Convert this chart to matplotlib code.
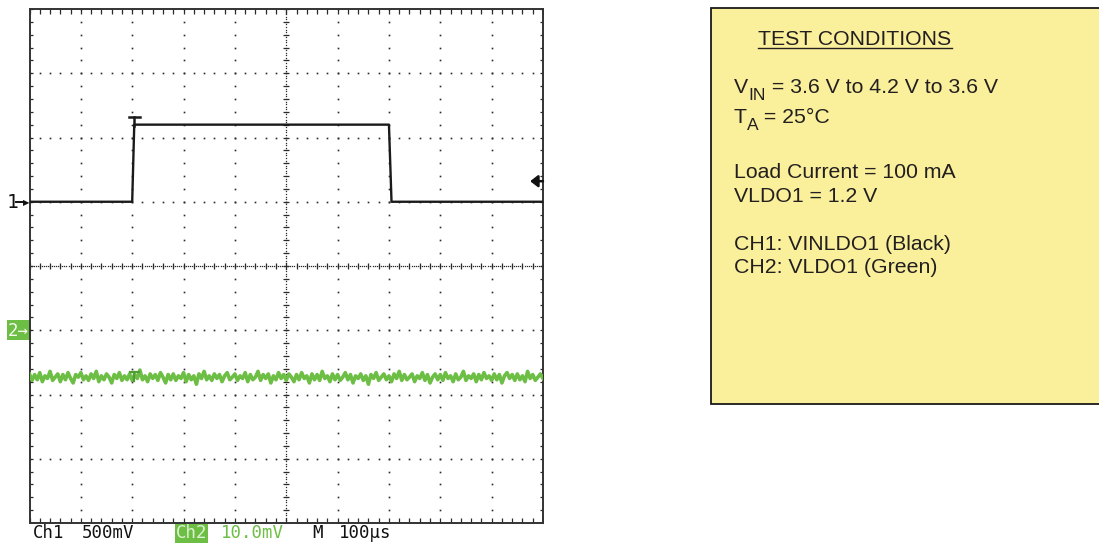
import numpy as np
import matplotlib
matplotlib.use("Agg")
import matplotlib.pyplot as plt
from matplotlib.patches import Rectangle
from matplotlib.lines import Line2D

# ---------------- data ----------------
# Channel 1 (VINLDO1) : time in microseconds, voltage in volts
ch1_time_us = [0, 200, 204, 700, 705, 1000]
ch1_volts = [3.6, 3.6, 4.2, 4.2, 3.6, 3.6]
ch1_ref_volts = 3.6          # level at channel-1 marker
ch1_scale_v = 0.5            # 500 mV/div
ch1_offset_div = 1.0         # marker "1" position (div above centre)
trigger_time_us = 204
trigger_level_v = 3.76

# Channel 2 (VLDO1) : mV relative to channel-2 marker, sampled every 5 us
ch2_mv = [
    -6.8, -7.8, -6.9, -7.7, -6.6, -8.0, -7.1, -7.5, -6.4, -7.8, -7.3, -6.8, -8.0, -6.9, -7.7, -6.6, -7.5, -8.2, -6.9, -7.3,
    -6.6, -7.7, -7.1, -7.8, -6.8, -7.5, -6.4, -8.0, -7.1, -7.7, -6.8, -7.3, -8.2, -6.9, -7.5, -6.6, -7.8, -7.1, -7.7, -6.8,
    -7.8, -6.9, -7.5, -6.2, -7.7, -7.1, -8.0, -6.8, -7.5, -6.9, -7.8, -6.6, -7.3, -8.2, -6.9, -7.7, -6.8, -7.8, -7.1, -7.5,
    -6.6, -8.0, -6.9, -7.7, -7.1, -8.4, -6.8, -7.5, -6.4, -7.7, -7.1, -7.8, -6.8, -7.5, -6.9, -8.0, -7.1, -6.6, -7.7, -7.3,
    -6.8, -7.8, -7.1, -7.5, -6.6, -8.0, -6.9, -7.7, -7.3, -6.4, -7.8, -6.9, -7.5, -6.8, -8.2, -7.1, -7.7, -6.6, -7.5, -6.9,
    -7.8, -6.8, -7.3, -8.0, -6.9, -7.7, -6.6, -7.5, -7.1, -8.2, -6.8, -7.7, -6.9, -7.8, -6.4, -7.5, -7.1, -8.0, -6.8, -7.7,
    -6.9, -7.8, -7.3, -6.6, -7.7, -6.9, -8.2, -7.1, -7.5, -6.8, -7.8, -7.1, -8.4, -6.9, -7.5, -6.6, -7.8, -7.3, -6.8, -7.7,
    -7.1, -8.0, -6.8, -7.5, -6.4, -7.8, -6.9, -7.7, -7.3, -6.8, -8.0, -7.1, -7.5, -6.6, -7.8, -6.9, -8.2, -7.3, -6.8, -7.7,
    -6.9, -7.8, -6.6, -7.5, -7.1, -8.0, -6.8, -7.7, -7.3, -6.4, -7.8, -7.1, -7.5, -6.8, -8.0, -6.9, -7.7, -6.6, -7.5, -7.1,
    -7.8, -6.8, -7.7, -6.9, -8.2, -7.1, -6.6, -7.5, -6.9, -7.8, -6.8, -7.7, -7.1, -8.0, -6.4, -7.5, -6.9, -7.8, -7.3, -6.8,
    -7.5,
]
ch2_step_us = 5
ch2_scale_mv = 10.0          # 10.0 mV/div
ch2_offset_div = -1.0        # marker "2" position

time_per_div_us = 100

# scope status labels
status_labels = ["Ch1", "500mV", "Ch2", "10.0mV", "M", "100\u00b5s"]

# test-condition text
tc_title = "TEST CONDITIONS"
tc_vin = ("V", "IN", " = 3.6 V to 4.2 V to 3.6 V")
tc_ta = ("T", "A", " = 25°C")
tc_lines = [
    "Load Current = 100 mA",
    "VLDO1 = 1.2 V",
    "CH1: VINLDO1 (Black)",
    "CH2: VLDO1 (Green)",
]

# ---------------- figure ----------------
W, H = 1099, 544
fig = plt.figure(figsize=(W / 100, H / 100), dpi=100)
fig.patch.set_facecolor("white")


def px(x, y):
    return x / W, 1 - y / H


GREEN = "#6DBE45"
DOT = "#2a2a2a"

L, T, R, B = 29.5, 9, 543, 523
ax = fig.add_axes([L / W, 1 - B / H, (R - L) / W, (B - T) / H])
ax.set_xlim(0, 10)
ax.set_ylim(-4, 4)
ax.set_xticks([])
ax.set_yticks([])
for s in ax.spines.values():
    s.set_color("#333333")
    s.set_linewidth(1.4)
ax.set_facecolor("white")

# graticule
ys_minor = np.linspace(-4, 4, 41)
xs_minor = np.linspace(0, 10, 51)
for k in range(1, 10):
    if k == 5:
        continue
    ax.plot(np.full_like(ys_minor, k), ys_minor, ls="none", marker="s", ms=1.2,
            mec="none", mfc=DOT, zorder=1)
for m in range(-3, 4):
    if m == 0:
        continue
    ax.plot(xs_minor, np.full_like(xs_minor, m), ls="none", marker="s", ms=1.2,
            mec="none", mfc=DOT, zorder=1)

# centre crosshair (dense dots + subdivision ticks)
dense_y = np.linspace(-4, 4, 201)
dense_x = np.linspace(0, 10, 251)
ax.plot(np.full_like(dense_y, 5), dense_y, ls="none", marker="s", ms=0.9,
        mec="none", mfc=DOT, zorder=1)
ax.plot(dense_x, np.zeros_like(dense_x), ls="none", marker="s", ms=0.9,
        mec="none", mfc=DOT, zorder=1)
ax.plot(np.full_like(ys_minor, 5), ys_minor, ls="none", marker="_", ms=5,
        mew=0.9, color=DOT, zorder=1)
ax.plot(xs_minor, np.zeros_like(xs_minor), ls="none", marker="|", ms=5,
        mew=0.9, color=DOT, zorder=1)

# edge ticks (pointing inwards)
tick_kw = dict(ls="none", color=DOT, mew=0.9, zorder=1)
ax.plot(xs_minor, np.full_like(xs_minor, 4), marker=3, ms=3.5, **tick_kw)
ax.plot(xs_minor, np.full_like(xs_minor, -4), marker=2, ms=3.5, **tick_kw)
ax.plot(np.zeros_like(ys_minor), ys_minor, marker=1, ms=2.5, **tick_kw)
ax.plot(np.full_like(ys_minor, 10), ys_minor, marker=0, ms=2.5, **tick_kw)

# channel 1 trace
ch1_x = np.array(ch1_time_us) / time_per_div_us
ch1_y = (np.array(ch1_volts) - ch1_ref_volts) / ch1_scale_v + ch1_offset_div
ax.plot(ch1_x, ch1_y, color="#1a1a1a", lw=1.7, zorder=4)

# channel 2 trace
ch2_t = np.arange(len(ch2_mv)) * ch2_step_us
ch2_x = ch2_t / time_per_div_us
ch2_y = np.array(ch2_mv) / ch2_scale_mv + ch2_offset_div
ax.plot(ch2_x, ch2_y, color=GREEN, lw=2.6, zorder=3)

# trigger position "T" markers
trig_x = trigger_time_us / time_per_div_us
top_y = (max(ch1_volts) - ch1_ref_volts) / ch1_scale_v + ch1_offset_div
ax.plot([trig_x - 0.11, trig_x + 0.11], [top_y + 0.125] * 2, color="#1a1a1a", lw=1.8, zorder=5)
ax.plot([trig_x, trig_x], [top_y + 0.125, top_y - 0.02], color="#1a1a1a", lw=1.8, zorder=5)
ch2_mid = float(np.mean(ch2_y))
ax.plot([trig_x - 0.09, trig_x + 0.09], [ch2_mid + 0.08] * 2, color="#4f9d34", lw=1.6, zorder=5)
ax.plot([trig_x, trig_x], [ch2_mid + 0.08, ch2_mid - 0.06], color="#4f9d34", lw=1.6, zorder=5)

# trigger level arrow
trig_y = (trigger_level_v - ch1_ref_volts) / ch1_scale_v + ch1_offset_div
ax.annotate("", xy=(9.75, trig_y), xytext=(10.0, trig_y),
            arrowprops=dict(arrowstyle="-|>,head_length=0.45,head_width=0.35",
                            color="#111111", lw=1.8, shrinkA=0, shrinkB=0), zorder=6)

# channel markers left of graticule
mono = "DejaVu Sans Mono"
y1 = 266 - ch1_offset_div * (B - T) / 8
fig.text(*px(7, y1 + 0.5), "1", ha="left", va="center", fontsize=14, family=mono,
         color="#111111")
fig.add_artist(Line2D([16 / W, 24 / W], [1 - y1 / H] * 2, color="#111111", lw=1.4))
fig.text(*px(29.5, y1 + 0.3), "\u25b6", ha="right", va="center", fontsize=6,
         family="DejaVu Sans", color="#111111")

y2 = 266 - ch2_offset_div * (B - T) / 8
fig.add_artist(Rectangle(px(7, y2 + 10), 22 / W, 20 / H, transform=fig.transFigure,
                         facecolor=GREEN, edgecolor="none"))
fig.text(*px(8, y2 + 0.5), "2\u2192", ha="left", va="center", fontsize=12.5,
         family=mono, color="#F4FBEF")

# status line
stat_y = 533.5
fs_stat = 12.5
fig.text(*px(33, stat_y), status_labels[0], ha="left", va="center",
         fontsize=fs_stat, family=mono, color="#111111")
fig.text(*px(82, stat_y), status_labels[1], ha="left", va="center",
         fontsize=fs_stat, family=mono, color="#111111")
fig.add_artist(Rectangle(px(175, 543), 33 / W, 19 / H, transform=fig.transFigure,
                         facecolor=GREEN, edgecolor="none"))
fig.text(*px(176, stat_y), status_labels[2], ha="left", va="center",
         fontsize=fs_stat, family=mono, color="#DDF2D0")
fig.text(*px(221, stat_y), status_labels[3], ha="left", va="center",
         fontsize=fs_stat, family=mono, color=GREEN)
fig.text(*px(312, stat_y), status_labels[4], ha="left", va="center",
         fontsize=fs_stat, family=mono, color="#111111")
fig.text(*px(339, stat_y), status_labels[5], ha="left", va="center",
         fontsize=fs_stat, family=mono, color="#111111")

# test-condition box
fig.add_artist(Rectangle(px(711, 404), (1110 - 711) / W, (404 - 8) / H,
                         transform=fig.transFigure, facecolor="#FAF09B",
                         edgecolor="#1a1a1a", lw=1.3, clip_on=False))
sans = "Liberation Sans"
TXT = "#231F20"
FS = 15.3
FS_SUB = 12.5
fig.text(*px(758, 45), tc_title, ha="left", va="baseline", fontsize=FS,
         family=sans, color=TXT)
fig.add_artist(Line2D([758 / W, 952 / W], [1 - 47.5 / H] * 2, color=TXT, lw=1.0))

# subscripted lines
fig.text(*px(734, 93), tc_vin[0], ha="left", va="baseline", fontsize=FS, family=sans, color=TXT)
fig.text(*px(748.5, 99.5), tc_vin[1], ha="left", va="baseline", fontsize=FS_SUB, family=sans, color=TXT)
fig.text(*px(766, 93), tc_vin[2], ha="left", va="baseline", fontsize=FS, family=sans, color=TXT)
fig.text(*px(734, 123), tc_ta[0], ha="left", va="baseline", fontsize=FS, family=sans, color=TXT)
fig.text(*px(746.5, 129.5), tc_ta[1], ha="left", va="baseline", fontsize=FS_SUB, family=sans, color=TXT)
fig.text(*px(758.5, 123), tc_ta[2], ha="left", va="baseline", fontsize=FS, family=sans, color=TXT)

baselines = [178, 202, 250, 273]
for txt, yb in zip(tc_lines, baselines):
    fig.text(*px(734, yb), txt, ha="left", va="baseline", fontsize=FS,
             family=sans, color=TXT)

fig.savefig("out.png", dpi=100)
